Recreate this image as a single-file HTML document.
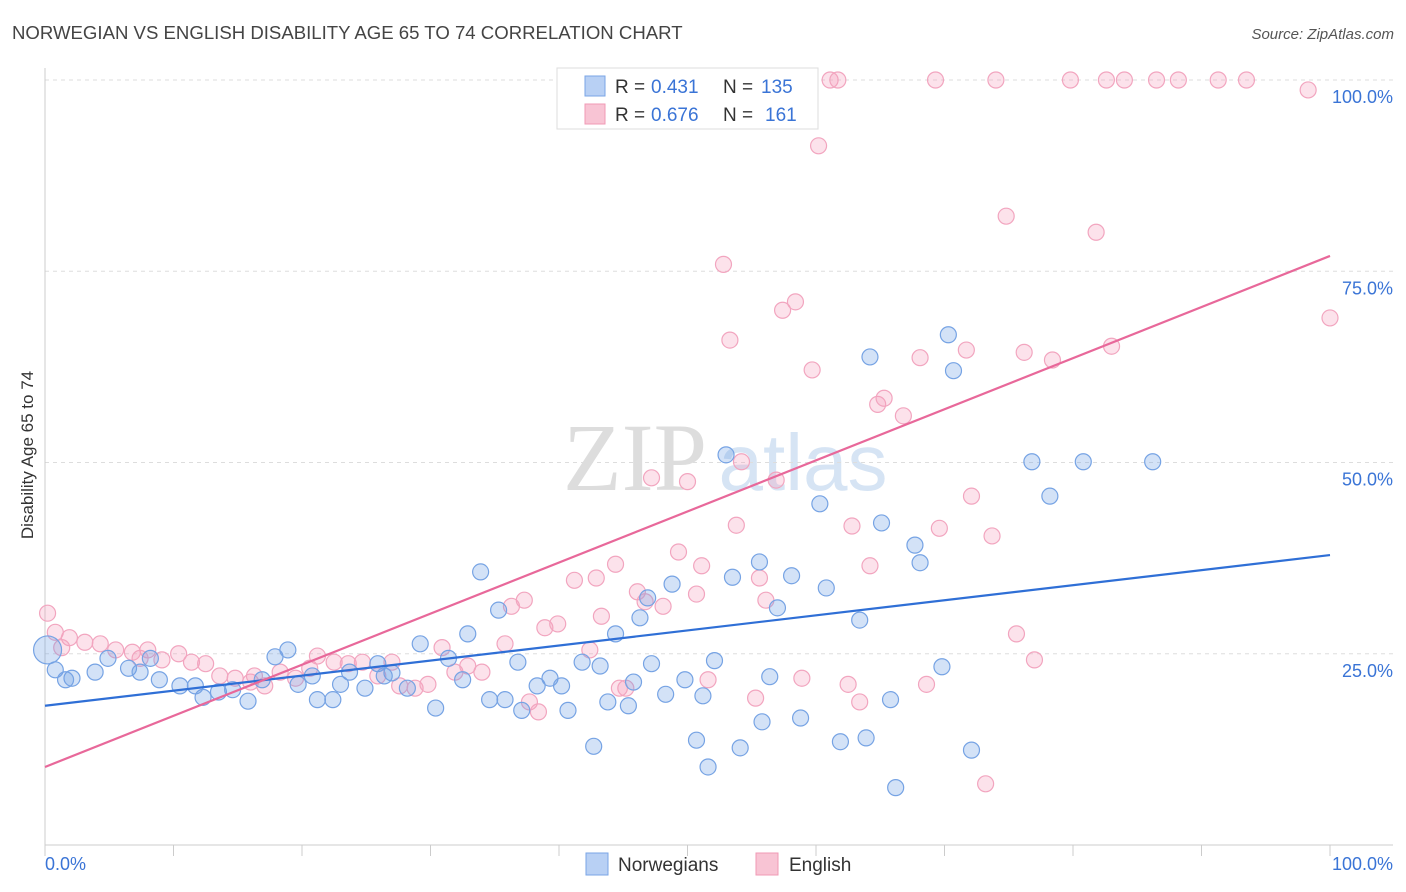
<!DOCTYPE html>
<html><head><meta charset="utf-8"><style>
body{margin:0;background:#fff;font-family:"Liberation Sans",sans-serif;}
svg{display:block}
</style></head><body>
<svg id="chart" width="1406" height="892" xmlns="http://www.w3.org/2000/svg">
<text x="12" y="39" font-size="18.6" fill="#444" font-family="Liberation Sans">NORWEGIAN VS ENGLISH DISABILITY AGE 65 TO 74 CORRELATION CHART</text>
<text x="1394" y="39" font-size="15" fill="#555" font-style="italic" text-anchor="end">Source: ZipAtlas.com</text>
<text transform="translate(33,455) rotate(-90)" font-size="17" fill="#333" text-anchor="middle">Disability Age 65 to 74</text>
<g>
<text x="635" y="490" font-size="96" fill="#ddd" font-family="Liberation Serif" text-anchor="middle">ZIP</text>
<text x="803" y="490" font-size="80" fill="#d6e4f4" text-anchor="middle">atlas</text>
</g>
<g id="grid"></g><g id="pts"></g><g id="lines"></g>
<g>
<rect x="557" y="68" width="261" height="61" fill="#fff" stroke="#ddd"/>
<rect x="585" y="76" width="20" height="20" fill="#b8d0f4" stroke="#7aa5e6"/>
<text x="615" y="93" font-size="19" fill="#333">R =</text>
<text x="651" y="93" font-size="19" fill="#3a74d6">0.431</text>
<text x="723" y="93" font-size="19" fill="#333">N =</text>
<text x="761" y="93" font-size="19" fill="#3a74d6">135</text>
<rect x="585" y="104" width="20" height="20" fill="#f8c4d4" stroke="#f09ab5"/>
<text x="615" y="121" font-size="19" fill="#333">R =</text>
<text x="651" y="121" font-size="19" fill="#3a74d6">0.676</text>
<text x="723" y="121" font-size="19" fill="#333">N =</text>
<text x="765" y="121" font-size="19" fill="#3a74d6">161</text>
</g>
<g>
<rect x="586" y="853" width="22" height="22" fill="#b8d0f4" stroke="#7aa5e6"/>
<text x="618" y="871" font-size="19" fill="#333">Norwegians</text>
<rect x="756" y="853" width="22" height="22" fill="#f8c4d4" stroke="#f09ab5"/>
<text x="789" y="871" font-size="19" fill="#333">English</text>
</g>
<text x="45" y="870" font-size="18" fill="#3a74d6">0.0%</text>
<text x="1393" y="870" font-size="18" fill="#3a74d6" text-anchor="end">100.0%</text>
</svg>
<script>
const yTicks=[25,50,75,100];
const yTickLabels=["25.0%","50.0%","75.0%","100.0%"];
const xTicks=[0,10,20,30,40,50,60,70,80,90,100];
const blueX=[0.8,2.1,3.9,4.9,6.5,8.2,8.9,10.5,12.3,13.5,14.6,15.8,16.9,17.9,18.9,19.7,20.8,21.2,22.4,23.7,24.9,25.9,27.0,28.2,29.2,30.4,31.4,32.5,32.9,33.9,35.3,35.8,36.8,37.1,38.3,39.3,40.2,40.7,41.8,42.7,43.8,44.4,45.4,46.3,46.9,47.2,48.3,48.8,49.8,50.7,51.6,52.1,53.0,53.5,54.1,55.6,55.8,56.4,57.0,58.1,58.8,60.3,60.8,61.9,63.4,63.9,64.2,65.1,65.8,66.2,67.7,68.1,69.8,70.3,70.7,72.1,76.8,78.2,80.8,86.2,1.6,7.4,11.7,23.0,26.4,34.6,43.2,45.8,51.2,0.2];
const blueY=[22.9,21.8,22.6,24.4,23.1,24.4,21.6,20.8,19.3,20.0,20.3,18.8,21.6,24.6,25.5,21.0,22.1,19.0,19.0,22.6,20.5,23.7,22.5,20.5,26.3,17.9,24.4,21.6,27.6,35.7,30.7,19.0,23.9,17.6,20.8,21.8,20.8,17.6,23.9,12.9,18.7,27.6,18.2,29.7,32.3,23.7,19.7,34.1,21.6,13.7,10.2,24.1,51.0,35.0,12.7,37.0,16.1,22.0,31.0,35.2,16.6,44.6,33.6,13.5,29.4,14.0,63.8,42.1,19.0,7.5,39.2,36.9,23.3,66.7,62.0,12.4,50.1,45.6,50.1,50.1,21.6,22.6,20.8,21.0,22.1,19.0,23.4,21.3,19.5,25.5];
const pinkX=[0.2,0.8,1.9,3.1,4.3,5.5,6.8,8.0,9.1,10.4,11.4,12.5,13.6,14.8,16.0,17.1,18.3,19.5,20.6,21.2,22.5,23.6,24.7,25.9,27.0,27.6,28.8,30.9,31.9,32.9,34.0,35.8,36.3,37.3,37.7,38.9,39.9,41.2,42.4,42.9,43.3,44.4,45.2,46.1,47.2,48.1,49.3,50.0,51.1,51.6,52.2,52.8,53.3,53.8,54.2,55.3,55.6,56.9,57.4,58.4,58.9,59.7,60.2,61.1,61.7,62.8,63.4,64.2,64.8,65.3,66.8,68.1,68.6,69.3,69.6,71.7,72.1,73.2,73.7,74.0,74.8,75.6,76.2,77.0,78.4,79.8,81.8,82.6,83.0,84.0,86.5,88.2,91.3,93.5,98.3,100,1.3,7.4,16.3,29.8,38.4,44.7,46.7,50.7,56.1,62.5];
const pinkY=[30.3,27.8,27.1,26.5,26.3,25.5,25.2,25.5,24.2,25.0,23.9,23.7,22.1,21.8,21.3,20.8,22.6,21.8,23.1,24.7,23.9,23.7,23.9,22.1,23.9,20.8,20.5,25.8,22.6,23.4,22.6,26.3,31.2,32.0,18.7,28.4,28.9,34.6,25.5,34.9,29.9,36.7,20.5,33.1,48.0,31.2,38.3,47.5,36.5,21.6,100,75.9,66.0,41.8,50.1,19.2,34.9,47.7,69.9,71.0,21.8,62.1,91.4,100,100,41.7,18.7,36.5,57.6,58.4,56.1,63.7,21.0,100,41.4,64.7,45.6,8.0,40.4,100,82.2,27.6,64.4,24.2,63.4,100,80.1,100,65.2,100,100,100,100,100,98.7,68.9,25.8,24.4,22.1,21.0,17.4,20.5,31.8,32.8,32.0,21.0];
const blueTrend=[18.2,37.9];
const pinkTrend=[10.2,77.0];
const NS="http://www.w3.org/2000/svg";
const X0=45,X1=1330,Y0=845,Y100=80;
function sx(v){return X0+(X1-X0)*v/100;}
function sy(v){return Y0-(Y0-Y100)*v/100;}
function mk(t,a,p){const e=document.createElementNS(NS,t);for(const k in a)e.setAttribute(k,a[k]);p.appendChild(e);return e;}
const grid=document.getElementById('grid');
yTicks.forEach((t,i)=>{
 const l=mk('line',{x1:X0,x2:1393,y1:sy(t),y2:sy(t),stroke:'#ddd','stroke-dasharray':'4,4'},grid);
 
 
 const tx=mk('text',{x:1393,y:sy(t)+23,'font-size':18,fill:'#3a74d6','text-anchor':'end'},grid);
 tx.textContent=yTickLabels[i];
 
 
});
const ax=mk('line',{x1:X0,x2:1393,y1:Y0,y2:Y0,stroke:'#ccc'},grid);


const ay=mk('line',{x1:X0,x2:X0,y1:68,y2:Y0,stroke:'#ccc'},grid);


xTicks.forEach(t=>{
 const l=mk('line',{x1:sx(t),x2:sx(t),y1:Y0,y2:Y0+11,stroke:'#ccc'},grid);
 
 
});
const pts=document.getElementById('pts');
pinkX.forEach((x,i)=>{
 const c=mk('circle',{cx:sx(x),cy:sy(pinkY[i]),r:8,fill:'rgba(244,160,188,0.3)',stroke:'#f2a5bf','stroke-width':1.2},pts);
 
 
});
blueX.forEach((x,i)=>{
 const c=mk('circle',{cx:sx(x),cy:sy(blueY[i]),r:i==blueX.length-1?14:8,fill:'rgba(110,160,230,0.3)',stroke:'#76a3e4','stroke-width':1.2},pts);
 
 
});
const lines=document.getElementById('lines');
const bl=mk('line',{x1:sx(0),y1:sy(blueTrend[0]),x2:sx(100),y2:sy(blueTrend[1]),stroke:'#2f6fd6','stroke-width':2.2},lines);


const pl=mk('line',{x1:sx(0),y1:sy(pinkTrend[0]),x2:sx(100),y2:sy(pinkTrend[1]),stroke:'#e8689a','stroke-width':2.2},lines);


</script>
</body></html>
